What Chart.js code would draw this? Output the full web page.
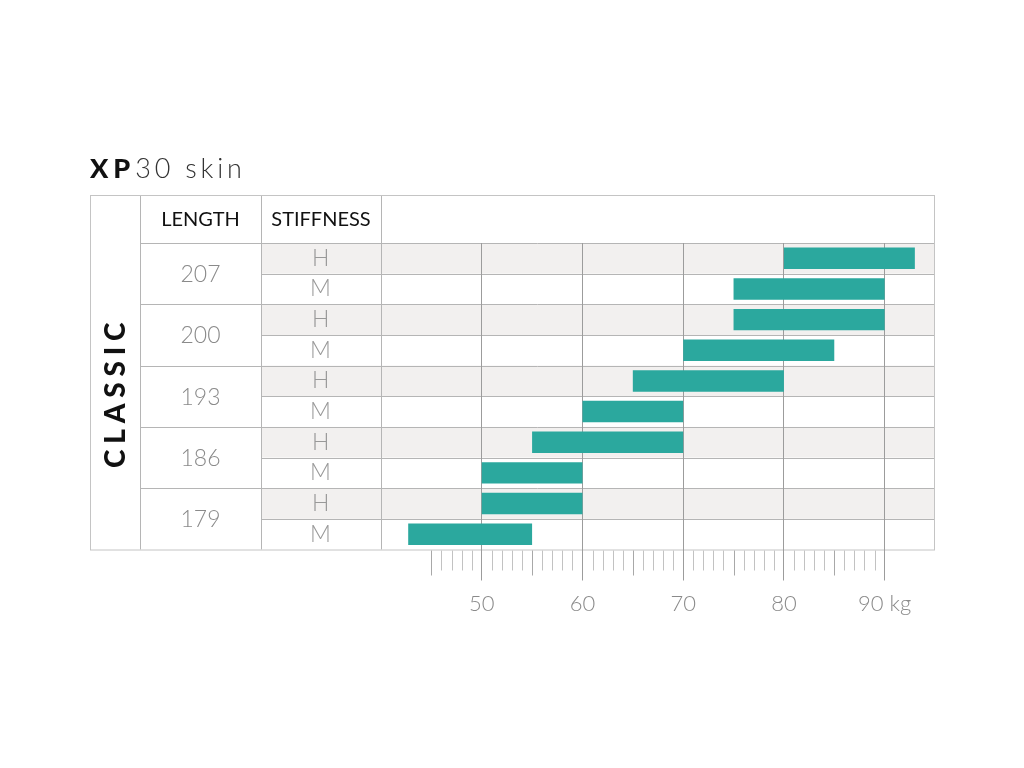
<!DOCTYPE html>
<html>
<head>
<meta charset="utf-8">
<script src="https://cdn.jsdelivr.net/npm/chart.js@4.4.1/dist/chart.umd.min.js"></script>
<style>
  html, body { margin: 0; padding: 0; background: #fff; }
  canvas { display: block; }
</style>
</head>
<body>
<canvas id="myChart" width="1024" height="768"></canvas>
<script>
// 데이터 //////////////////////////////////////////////////////////
const title = ["XP", "30 skin"];
const style = "CLASSIC";
const headers = ["LENGTH", "STIFFNESS"];
const lengths = ["207", "200", "193", "186", "179"];
const stiffness = ["H", "M", "H", "M", "H", "M", "H", "M", "H", "M"];
const weightMin = [80, 75, 75, 70, 65, 60, 55, 50, 50, 42.7];
const weightMax = [93, 90, 90, 85, 80, 70, 70, 60, 60, 55];
const weightTicks = [50, 60, 70, 80, 90];
const unit = "kg";

// 표 좌표 (레이아웃)
const tableLeft = 90;
const tableTop = 195;
const colLength = 140;
const colStiff = 261;

// 글자 간격 그리기
function drawSpaced(ctx, text, x, y, spacing) {
  for (let ch of text) {
    ctx.fillText(ch, x, y);
    x += ctx.measureText(ch).width + spacing;
  }
  return x;
}
function spacedWidth(ctx, text, spacing) {
  let w = 0;
  for (let ch of text) w += ctx.measureText(ch).width + spacing;
  return w - spacing;
}

// 표 배경과 선 //////////////////////////////////////////////////////
const tablePlugin = {
  id: "table",
  beforeDraw(chart) {
    const ctx = chart.ctx;
    const area = chart.chartArea;
    const n = stiffness.length;
    const rowH = (area.bottom - area.top) / n;
    ctx.save();
    ctx.fillStyle = "#fff";
    ctx.fillRect(0, 0, chart.width, chart.height);

    // H 줄 회색 배경
    ctx.fillStyle = "#f2f0ef";
    for (let i = 0; i < n; i++) {
      if (stiffness[i] === "H") {
        ctx.fillRect(colStiff, area.top + i * rowH, area.right - colStiff, rowH);
      }
    }

    // 가로선
    ctx.strokeStyle = "#b5b5b5";
    ctx.lineWidth = 1;
    ctx.beginPath();
    for (let i = 0; i < n; i++) {
      let y = Math.round(area.top + i * rowH) + 0.5;
      let x0 = i % 2 === 0 ? colLength : colStiff;
      ctx.moveTo(x0, y);
      ctx.lineTo(area.right, y);
    }
    // 세로선
    [colLength, colStiff, area.left].forEach(function (x) {
      x = Math.round(x) + 0.5;
      ctx.moveTo(x, tableTop);
      ctx.lineTo(x, area.bottom);
    });
    ctx.stroke();

    // 바깥 테두리
    ctx.strokeStyle = "#c4c4c4";
    ctx.strokeRect(tableLeft + 0.5, tableTop + 0.5, area.right - tableLeft - 1, area.bottom - tableTop);
    ctx.restore();
  },
  afterDraw(chart) {
    const ctx = chart.ctx;
    const area = chart.chartArea;
    const xs = chart.scales.x;
    const n = stiffness.length;
    const rowH = (area.bottom - area.top) / n;
    ctx.save();

    // 작은 눈금
    ctx.lineWidth = 1;
    for (let v = 45; v < 90; v++) {
      if (v % 10 === 0) continue;
      let x = Math.round(xs.getPixelForValue(v)) + 0.5;
      ctx.strokeStyle = v % 5 === 0 ? "#a8a8a8" : "#c2c2c2";
      ctx.beginPath();
      ctx.moveTo(x, area.bottom + 1);
      ctx.lineTo(x, area.bottom + (v % 5 === 0 ? 26 : 21));
      ctx.stroke();
    }

    // 제목
    ctx.textBaseline = "alphabetic";
    ctx.fillStyle = "#111";
    ctx.font = "900 27px Lato";
    let x = drawSpaced(ctx, title[0], tableLeft, 178, 5);
    ctx.fillStyle = "#333";
    ctx.font = "300 27px Lato";
    drawSpaced(ctx, title[1], x, 178, 3.8);

    // 머리글
    ctx.textAlign = "center";
    ctx.textBaseline = "middle";
    ctx.fillStyle = "#111";
    ctx.font = "400 20px Lato";
    ctx.fillText(headers[0], (colLength + colStiff) / 2, 220);
    ctx.fillText(headers[1], (colStiff + area.left) / 2, 220);

    // 길이
    ctx.fillStyle = "#8a8a8a";
    ctx.font = "300 23px Lato";
    for (let g = 0; g < lengths.length; g++) {
      let y = area.top + (2 * g + 1) * rowH;
      ctx.fillText(lengths[g], (colLength + colStiff) / 2, y + 1);
    }

    // CLASSIC (세로)
    ctx.save();
    ctx.translate((tableLeft + colLength) / 2 + 1, (tableTop + area.bottom) / 2 + 23);
    ctx.rotate(-Math.PI / 2);
    ctx.fillStyle = "#111";
    ctx.font = "900 28px Lato";
    ctx.textAlign = "left";
    let w = spacedWidth(ctx, style, 5.8);
    drawSpaced(ctx, style, -w / 2, 0, 5.8);
    ctx.restore();

    ctx.restore();
  },
};

// 차트 생성 /////////////////////////////////////////////////////////
let ctx = document.getElementById("myChart").getContext("2d");
let myChart = new Chart(ctx, {
  type: "bar",
  data: {
    labels: stiffness,
    datasets: [
      {
        data: weightMin.map(function (v, i) {
          return [v, weightMax[i]];
        }),
        backgroundColor: "#2ba89e",
        borderWidth: 0,
        borderSkipped: false,
        barPercentage: 0.7,
        categoryPercentage: 1,
      },
    ],
  },
  options: {
    indexAxis: "y",
    responsive: false,
    animation: false,
    layout: {
      padding: { left: colStiff, right: 89, top: 243, bottom: 148.5 },
    },
    plugins: {
      legend: { display: false },
      tooltip: { enabled: false },
    },
    scales: {
      x: {
        type: "linear",
        position: "bottom",
        min: 40,
        max: 95,
        afterFit: function (scale) {
          scale.height = 70;
        },
        border: { display: false },
        grid: {
          tickLength: 31,
          color: function (c) {
            return c.tick && weightTicks.indexOf(c.tick.value) >= 0 ? "#9c9c9c" : "rgba(0,0,0,0)";
          },
        },
        ticks: {
          stepSize: 10,
          maxRotation: 0,
          autoSkip: false,
          padding: 10,
          color: "#8a8a8a",
          font: { family: "Lato", size: 22, weight: "300" },
          callback: function (v) {
            if (weightTicks.indexOf(v) < 0) return "";
            return v === weightTicks[weightTicks.length - 1] ? v + " " + unit : String(v);
          },
        },
      },
      y: {
        type: "category",
        position: "left",
        afterFit: function (scale) {
          scale.width = 120;
        },
        border: { display: false },
        grid: { display: false, drawTicks: false },
        ticks: {
          crossAlign: "center",
          padding: 50,
          color: "#999",
          font: { family: "Lato", size: 23, weight: "300" },
        },
      },
    },
  },
  plugins: [tablePlugin],
});
</script>
</body>
</html>
